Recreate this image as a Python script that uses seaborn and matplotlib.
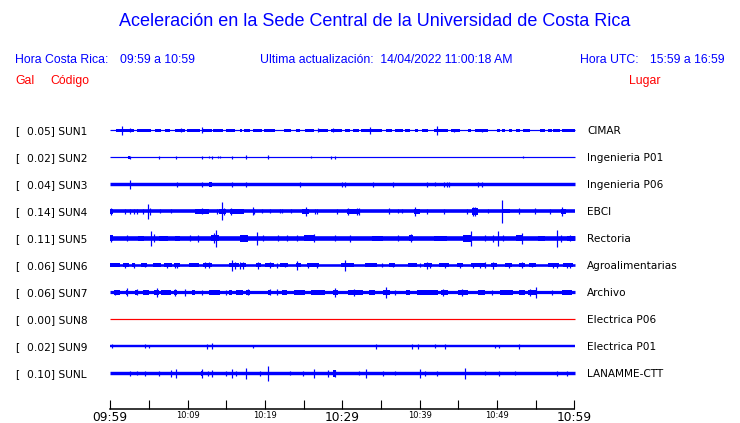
import numpy as np
import pandas as pd
import matplotlib
matplotlib.use("Agg")
import matplotlib.pyplot as plt
import seaborn as sns

# ---------------- data ----------------
codes = ["SUN1", "SUN2", "SUN3", "SUN4", "SUN5", "SUN6", "SUN7", "SUN8", "SUN9", "SUNL"]
gal = ["0.05", "0.02", "0.04", "0.14", "0.11", "0.06", "0.06", "0.00", "0.02", "0.10"]
places = ["CIMAR", "Ingenieria P01", "Ingenieria P06", "EBCI", "Rectoria",
          "Agroalimentarias", "Archivo", "Electrica P06", "Electrica P01", "LANAMME-CTT"]
# base half-amplitude of each trace (display px)
base_amp = [0.5, 0.5, 1.7, 1.8, 2.3, 1.3, 1.6, 0.5, 1.2, 1.7]
trace_colors = ["#0000ff"] * 7 + ["#ff0000"] + ["#0000ff"] * 2

tick_minutes = list(range(0, 61, 5))
tick_labels = ["09:59", "", "10:09", "", "10:19", "", "10:29", "", "10:39", "", "10:49", "", "10:59"]
major_ticks = [0, 30, 60]

# blocks: (start min, end min, half amplitude); spikes: (min, half amplitude)
sun1_blocks = [(0.7, 0.95, 1.3), (1.0, 3.0, 1.3), (3.4, 5.3, 1.3), (5.8, 6.6, 1.3), (7.1, 7.7, 1.3),
               (8.4, 9.7, 1.3), (9.9, 11.6, 1.3), (11.8, 13.1, 1.3), (13.3, 14.6, 1.3), (14.9, 16.1, 1.3),
               (16.8, 17.0, 1.3), (17.3, 18.1, 1.3), (18.5, 19.6, 1.3), (19.9, 21.3, 1.3), (22.5, 23.4, 1.3),
               (24.0, 24.5, 1.3), (25.2, 26.4, 1.3), (26.9, 28.2, 1.3), (28.6, 29.9, 1.3), (30.3, 31.0, 1.3),
               (31.4, 32.1, 1.3), (32.4, 35.1, 1.3), (35.7, 36.4, 1.3), (36.8, 37.9, 1.3), (38.1, 38.8, 1.3),
               (39.4, 39.8, 1.3), (40.3, 41.1, 1.3), (41.8, 43.7, 1.3), (44.1, 45.2, 1.3), (46.2, 46.7, 1.3),
               (47.2, 48.9, 1.3), (50.0, 50.4, 1.3), (50.6, 51.0, 1.3), (51.5, 51.9, 1.3), (52.5, 53.0, 1.3),
               (53.4, 54.3, 1.3), (55.6, 56.2, 1.3), (56.6, 57.1, 1.3), (57.3, 58.1, 1.3), (58.4, 60.1, 1.3),
               (1.2, 2.3, 1.8), (8.8, 9.5, 1.6), (32.8, 33.9, 1.8), (41.8, 42.8, 1.8)]
sun1_spikes = [(1.55, 4.3), (2.5, 1.8), (9.2, 2.0), (11.8, 3.0), (26.9, 2.0), (28.8, 1.8),
               (33.6, 3.7), (42.3, 4.3), (44.4, 1.7), (48.1, 1.7)]

sun2_blocks = [(2.35, 2.6, 1.3)]
sun2_spikes = [(2.5, 1.3), (6.3, 1.3), (8.5, 1.3), (11.8, 1.3), (12.7, 1.0), (13.1, 1.3), (13.9, 1.0),
               (14.2, 1.0), (15.8, 1.3), (17.6, 2.0), (20.4, 2.0), (26.0, 0.8), (28.6, 1.3), (29.0, 1.3),
               (53.4, 1.0)]

sun3_blocks = [(12.8, 13.1, 2.3)]
sun3_spikes = [(2.5, 4.3), (8.6, 2.3), (11.8, 2.5), (15.8, 2.5), (17.6, 2.3), (24.5, 2.5), (29.9, 2.5),
               (30.3, 2.5), (34.0, 2.5), (36.6, 2.5), (41.0, 2.3), (42.0, 2.0), (43.1, 2.5), (43.5, 2.5),
               (43.8, 2.5), (47.5, 2.5), (48.1, 2.5)]

sun4_blocks = [(0.0, 0.3, 2.8), (11.0, 12.7, 2.2), (14.0, 14.9, 2.7), (15.5, 17.3, 2.2), (24.8, 25.7, 2.6),
               (30.6, 32.2, 2.4), (39.3, 40.0, 2.6), (46.8, 47.5, 3.2), (50.8, 51.7, 2.1), (58.3, 58.9, 2.6)]
sun4_spikes = [(0.1, 3.7), (1.9, 2.3), (2.5, 2.5), (3.0, 2.3), (3.4, 2.8), (4.2, 2.3), (4.9, 7.3), (5.1, 3.3),
               (6.4, 2.0), (7.9, 2.0), (11.9, 3.0), (13.8, 2.3), (14.4, 9.0), (14.7, 3.5), (15.6, 3.3),
               (18.4, 4.0), (18.6, 2.5), (19.6, 2.0), (20.7, 2.0), (22.0, 2.0), (22.2, 2.0), (23.4, 2.0),
               (25.3, 4.3), (26.5, 2.3), (26.7, 2.3), (29.3, 2.3), (30.7, 3.3), (31.9, 3.3), (32.1, 3.3),
               (36.0, 3.0), (37.2, 2.0), (37.7, 2.0), (39.4, 4.3), (40.9, 2.5), (43.1, 2.3), (46.1, 2.3),
               (46.9, 4.7), (47.1, 4.3), (48.8, 2.0), (50.7, 11.5), (52.8, 3.0), (54.9, 3.0), (56.8, 2.3),
               (58.4, 4.3)]

sun5_blocks = [(0.0, 0.4, 2.9), (3.6, 4.4, 2.7), (6.3, 7.5, 2.7), (8.4, 9.0, 2.5), (13.0, 14.0, 3.1),
               (16.8, 17.8, 3.2), (25.0, 26.5, 2.9), (33.8, 35.3, 2.6), (38.6, 39.2, 2.9), (41.8, 43.5, 2.6),
               (45.6, 46.7, 3.4), (52.5, 53.4, 3.1), (55.3, 56.2, 2.7), (59.0, 60.1, 2.7)]
sun5_spikes = [(0.1, 3.7), (2.1, 3.0), (5.3, 7.8), (5.6, 4.0), (10.3, 3.0), (11.4, 3.3), (13.7, 8.3),
               (13.4, 5.0), (19.0, 6.7), (19.8, 3.0), (21.7, 3.0), (22.8, 3.0), (24.1, 3.0), (26.3, 4.0),
               (29.1, 3.0), (31.0, 3.3), (37.2, 3.0), (38.9, 4.0), (46.6, 7.7), (48.4, 3.0), (49.5, 3.3),
               (50.1, 7.3), (50.8, 3.0), (53.2, 5.3), (57.7, 8.7), (58.3, 3.3), (59.4, 3.0)]

sun6_blocks = [(0.0, 1.2, 1.9), (1.6, 2.4, 1.9), (2.8, 3.2, 1.9), (4.0, 4.8, 1.9), (5.5, 6.5, 1.9),
               (7.0, 8.0, 1.9), (8.2, 9.0, 1.9), (10.2, 11.5, 1.9), (12.0, 13.2, 1.9), (15.4, 16.6, 1.9),
               (16.8, 17.6, 1.9), (18.9, 19.5, 1.9), (20.0, 21.2, 1.9), (22.0, 23.0, 1.9), (24.0, 24.6, 1.9),
               (25.4, 27.0, 1.9), (29.8, 31.5, 1.9), (33.0, 34.5, 1.9), (36.0, 36.8, 1.9), (38.5, 39.6, 1.9),
               (40.5, 41.6, 1.9), (42.5, 43.8, 1.9), (44.8, 45.6, 1.9), (46.6, 48.6, 1.9), (49.2, 50.0, 1.9),
               (51.0, 52.0, 1.9), (52.8, 53.6, 1.9), (54.2, 55.0, 1.9), (56.6, 58.0, 1.9), (58.6, 59.8, 1.9)]
sun6_spikes = [(1.9, 2.3), (3.0, 2.3), (4.5, 2.0), (7.3, 2.3), (8.4, 2.7), (8.6, 2.7), (12.2, 3.0),
               (12.7, 3.0), (15.8, 5.3), (16.1, 3.3), (16.8, 3.3), (17.1, 3.3), (19.1, 3.3), (20.6, 3.0),
               (21.6, 2.5), (22.6, 2.0), (24.2, 4.5), (25.6, 2.5), (26.7, 2.5), (30.3, 5.7), (35.1, 2.0),
               (36.6, 2.0), (40.1, 2.0), (40.9, 3.3), (41.3, 2.7), (43.3, 2.5), (45.2, 2.3), (46.9, 2.5),
               (47.8, 2.5), (48.4, 3.0), (49.5, 3.7), (51.5, 2.5), (53.2, 3.0), (54.5, 2.0), (57.3, 2.5),
               (57.7, 2.5), (59.0, 2.5), (59.4, 2.3)]

sun7_blocks = [(0.5, 1.2, 2.3), (2.0, 2.3, 2.3), (3.2, 3.6, 2.3), (4.2, 5.0, 2.3), (5.6, 6.3, 2.3),
               (6.5, 7.8, 2.3), (8.2, 8.6, 2.3), (10.5, 11.0, 2.3), (12.7, 14.2, 2.3), (15.4, 15.8, 2.3),
               (16.3, 17.2, 2.3), (17.6, 18.0, 2.3), (20.4, 20.8, 2.3), (22.2, 22.8, 2.3), (23.7, 25.2, 2.3),
               (26.0, 27.8, 2.3), (28.8, 29.4, 2.3), (30.8, 32.7, 2.3), (33.4, 34.2, 2.3), (35.2, 36.2, 2.3),
               (38.2, 38.8, 2.3), (39.6, 42.4, 2.3), (42.8, 43.7, 2.3), (45.0, 46.3, 2.3), (47.6, 48.4, 2.3),
               (50.4, 52.1, 2.3), (52.8, 53.6, 2.3), (54.0, 55.2, 2.3), (58.4, 59.7, 2.3)]
sun7_spikes = [(0.6, 2.5), (2.1, 4.0), (3.4, 3.0), (6.1, 4.7), (8.4, 3.3), (9.7, 3.3), (11.8, 2.3),
               (15.0, 2.3), (17.8, 3.0), (20.6, 3.0), (21.5, 3.0), (29.1, 4.3), (31.5, 3.3), (35.6, 5.3),
               (36.8, 2.3), (43.0, 3.3), (45.5, 3.3), (49.3, 2.3), (54.3, 3.3), (55.0, 5.3), (57.1, 2.3)]

sun8_blocks = []
sun8_spikes = []

sun9_blocks = []
sun9_spikes = [(0.2, 2.0), (4.5, 2.0), (5.0, 1.7), (12.5, 2.3), (13.1, 3.0), (18.5, 1.7), (34.4, 2.3),
               (39.0, 2.3), (39.8, 2.7), (42.0, 2.0), (43.3, 2.3), (49.7, 1.7), (50.2, 1.7), (52.8, 2.7)]

sunl_blocks = [(28.8, 29.2, 3.3), (11.7, 12.0, 2.5)]
sunl_spikes = [(2.5, 2.3), (3.5, 2.0), (4.5, 2.7), (6.3, 2.7), (7.8, 3.3), (8.5, 4.3), (11.8, 4.3),
               (12.6, 2.5), (13.1, 3.3), (15.0, 2.3), (15.8, 4.3), (16.3, 2.3), (17.6, 5.3), (19.3, 2.3),
               (20.4, 7.8), (23.2, 2.0), (24.9, 2.3), (26.3, 4.3), (28.1, 3.3), (29.0, 3.7), (32.1, 2.0),
               (33.1, 4.3), (35.2, 2.3), (36.8, 2.0), (40.0, 4.7), (40.7, 2.3), (42.3, 2.5), (45.9, 5.7),
               (48.4, 2.0), (50.3, 2.3), (52.3, 2.0), (57.7, 2.3), (59.1, 2.5)]

all_blocks = [sun1_blocks, sun2_blocks, sun3_blocks, sun4_blocks, sun5_blocks,
              sun6_blocks, sun7_blocks, sun8_blocks, sun9_blocks, sunl_blocks]
all_spikes = [sun1_spikes, sun2_spikes, sun3_spikes, sun4_spikes, sun5_spikes,
              sun6_spikes, sun7_spikes, sun8_spikes, sun9_spikes, sunl_spikes]

# ---------------- figure ----------------
sns.set_style("white")
plt.rcParams["font.family"] = ["DejaVu Sans"]

W, H = 740, 423
fig = plt.figure(figsize=(W / 100, H / 100), dpi=100)
fig.patch.set_facecolor("white")

x0_px, x1_px, axis_y = 110.3, 574.3, 409.0
ax = fig.add_axes([x0_px / W, 1 - axis_y / H, (x1_px - x0_px) / W, axis_y / H])
ax.set_facecolor("white")
ax.set_xlim(0, 60)
ax.set_ylim(axis_y, 0)

PX = 0.72  # points per pixel
t_end = 60.1
for i, code in enumerate(codes):
    yc = 130.3 + 27 * i
    col = trace_colors[i]
    df = pd.DataFrame({"t": [0.0, t_end], "y": [yc, yc]})
    sns.lineplot(data=df, x="t", y="y", ax=ax, color=col,
                 linewidth=max(2 * base_amp[i], 1.2) * PX, solid_capstyle="butt",
                 clip_on=False, legend=False)
    for (a, b, amp) in all_blocks[i]:
        ax.fill_between([a, min(b, t_end)], yc - amp, yc + amp, color=col, linewidth=0, clip_on=False)
    if all_spikes[i]:
        ts = [s[0] for s in all_spikes[i]]
        amps = np.array([s[1] for s in all_spikes[i]])
        ax.vlines(ts, yc - amps, yc + amps, color=col, linewidth=1.2 * PX, clip_on=False)

    fig.text(15 / W, 1 - (yc + 0.3) / H, "[", fontsize=7.7, color="black", ha="left", va="center")
    fig.text(27.3 / W, 1 - (yc + 0.3) / H, f"{gal[i]}] {code}", fontsize=7.7, color="black",
             ha="left", va="center")
    fig.text(587 / W, 1 - (yc + 0.3) / H, places[i], fontsize=7.6, color="black",
             ha="left", va="center")

ax.set_xlabel("")
ax.set_ylabel("")
ax.set_yticks([])
for s in ["top", "left", "right"]:
    ax.spines[s].set_visible(False)
ax.spines["bottom"].set_color("black")
ax.spines["bottom"].set_linewidth(1.1)
ax.set_xticks(tick_minutes)
ax.set_xticklabels(tick_labels)
ax.tick_params(axis="x", direction="in", length=9 * PX, width=0.8, color="black",
               pad=1.2, bottom=True, top=False)
for t, lab in zip(tick_minutes, ax.get_xticklabels()):
    if t in major_ticks:
        lab.set_fontsize(8.8)
    else:
        lab.set_fontsize(6.0)
    lab.set_color("black")

# ---------------- header ----------------
hf = ["Liberation Sans", "DejaVu Sans"]
blue, red = "#0000ff", "#ff0000"
fig.text(375 / W, 1 - 22 / H, "Aceleración en la Sede Central de la Universidad de Costa Rica",
         fontsize=13.0, color=blue, family=hf, ha="center", va="center")
fig.text(15 / W, 1 - 60 / H, "Hora Costa Rica:", fontsize=8.8, color=blue, family=hf, va="center")
fig.text(120 / W, 1 - 60 / H, "09:59 a 10:59", fontsize=8.8, color=blue, family=hf, va="center")
fig.text(260 / W, 1 - 60 / H, "Ultima actualización:  14/04/2022 11:00:18 AM", fontsize=8.8,
         color=blue, family=hf, va="center")
fig.text(580 / W, 1 - 60 / H, "Hora UTC:", fontsize=8.8, color=blue, family=hf, va="center")
fig.text(650 / W, 1 - 60 / H, "15:59 a 16:59", fontsize=8.8, color=blue, family=hf, va="center")
fig.text(15 / W, 1 - 81 / H, "Gal", fontsize=8.8, color=red, family=hf, va="center")
fig.text(50 / W, 1 - 81 / H, "Código", fontsize=8.8, color=red, family=hf, va="center")
fig.text(629 / W, 1 - 81 / H, "Lugar", fontsize=8.8, color=red, family=hf, va="center")

fig.savefig("out.png", dpi=100, facecolor="white")
